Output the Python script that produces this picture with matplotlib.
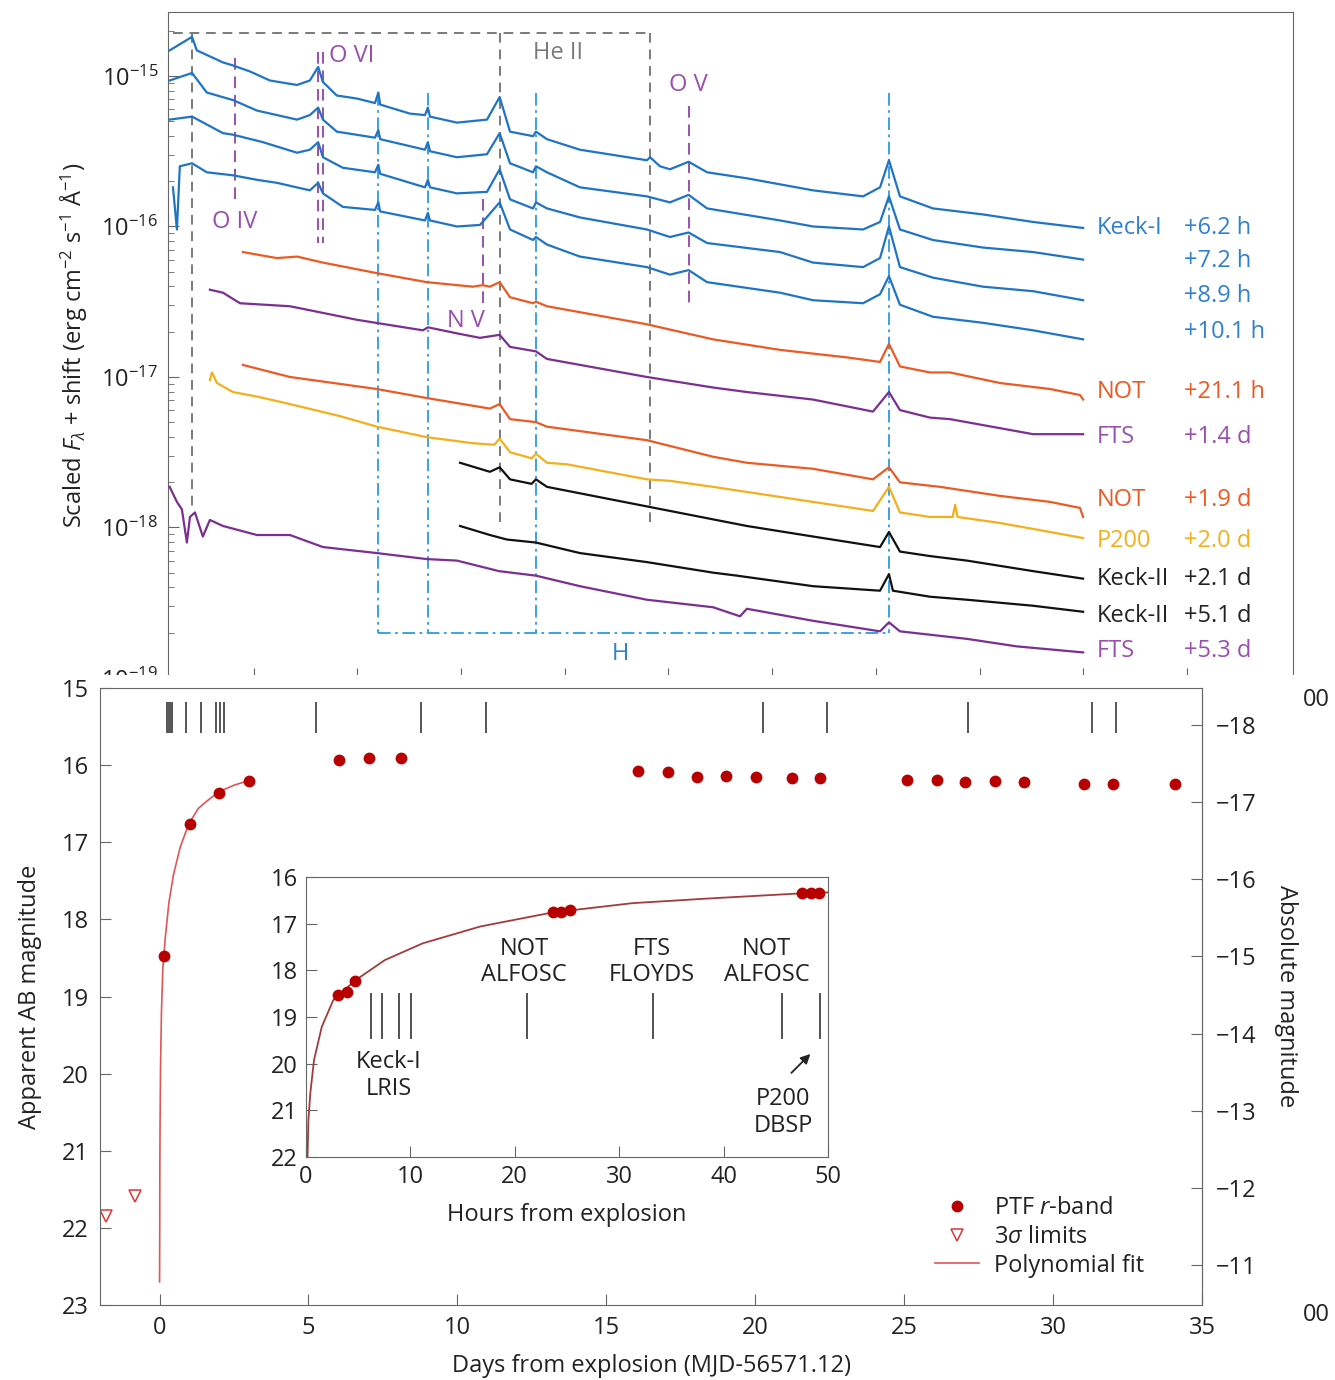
import matplotlib
matplotlib.use("Agg")
import matplotlib.pyplot as plt
import numpy as np
from matplotlib.patches import Rectangle

plt.rcParams["font.family"] = ["Open Sans", "DejaVu Sans"]
plt.rcParams["mathtext.fontset"] = "custom"
plt.rcParams["mathtext.rm"] = "Open Sans"
plt.rcParams["mathtext.it"] = "Open Sans:italic"
plt.rcParams["mathtext.bf"] = "Open Sans:bold"

# ---------------- spectra (wavelength in A, log10 flux) ----------------
k1_62_wl = [3095, 3203, 3226, 3352, 3400, 3482, 3578, 3709, 3771, 3811, 3834, 3901, 3998, 4085, 4101, 4110,
            4253, 4326, 4340, 4350, 4480, 4625, 4686, 4736, 4847, 4861, 4914, 5073, 5396, 5411, 5459, 5507,
            5597, 5686, 5878, 6197, 6438, 6520, 6563, 6616, 6775, 7016, 7258, 7499]
k1_62_lf = [-14.83, -14.74, -14.83, -14.91, -14.93, -14.97, -15.03, -15.06, -15.03, -14.94, -15.04, -15.13,
            -15.15, -15.18, -15.11, -15.19, -15.25, -15.26, -15.21, -15.27, -15.31, -15.29, -15.14, -15.37,
            -15.40, -15.37, -15.42, -15.49, -15.56, -15.54, -15.60, -15.62, -15.57, -15.64, -15.68, -15.76,
            -15.80, -15.74, -15.56, -15.80, -15.88, -15.92, -15.97, -16.01]

k1_72_wl = [3095, 3203, 3274, 3400, 3516, 3709, 3771, 3811, 3834, 3901, 4085, 4101, 4110, 4326, 4340, 4350,
            4480, 4625, 4686, 4736, 4847, 4861, 4914, 5073, 5396, 5507, 5597, 5686, 6038, 6197, 6438, 6520,
            6563, 6616, 6775, 7016, 7258, 7499]
k1_72_lf = [-15.03, -14.98, -15.11, -15.16, -15.23, -15.29, -15.26, -15.21, -15.29, -15.37, -15.41, -15.36,
            -15.42, -15.49, -15.44, -15.50, -15.54, -15.52, -15.38, -15.58, -15.64, -15.60, -15.64, -15.74,
            -15.80, -15.84, -15.79, -15.88, -15.96, -16.00, -16.02, -15.97, -15.80, -16.02, -16.09, -16.14,
            -16.17, -16.22]

k1_89_wl = [3095, 3203, 3352, 3400, 3545, 3709, 3771, 3811, 3834, 3930, 4085, 4101, 4110, 4326, 4340, 4350,
            4480, 4625, 4686, 4736, 4847, 4861, 4914, 5073, 5396, 5507, 5597, 5686, 6038, 6197, 6438, 6520,
            6563, 6616, 6775, 7016, 7258, 7499]
k1_89_lf = [-15.29, -15.27, -15.38, -15.39, -15.44, -15.51, -15.49, -15.44, -15.54, -15.61, -15.64, -15.59,
            -15.65, -15.74, -15.69, -15.74, -15.78, -15.77, -15.62, -15.82, -15.88, -15.84, -15.88, -15.94,
            -16.02, -16.07, -16.04, -16.11, -16.17, -16.24, -16.27, -16.21, -16.00, -16.27, -16.34, -16.40,
            -16.43, -16.49]

k1_101_wl = [3111, 3130, 3144, 3203, 3274, 3400, 3516, 3612, 3771, 3811, 3834, 3930, 4085, 4101, 4110, 4326,
             4340, 4350, 4480, 4591, 4604, 4686, 4736, 4847, 4861, 4914, 5073, 5396, 5507, 5597, 5686, 6038,
             6197, 6438, 6520, 6563, 6616, 6775, 7016, 7258, 7499]
k1_101_lf = [-15.74, -16.02, -15.60, -15.58, -15.64, -15.66, -15.69, -15.71, -15.76, -15.71, -15.78, -15.87,
             -15.89, -15.84, -15.90, -15.96, -15.91, -15.96, -16.00, -15.99, -15.97, -15.84, -16.02, -16.09,
             -16.07, -16.12, -16.20, -16.27, -16.32, -16.29, -16.37, -16.44, -16.49, -16.51, -16.45, -16.33,
             -16.52, -16.60, -16.64, -16.69, -16.75]

not_211_wl = [3448, 3612, 3709, 3834, 4094, 4335, 4557, 4604, 4639, 4686, 4736, 4847, 4861, 4914, 5396, 5555,
              5715, 6038, 6361, 6520, 6563, 6616, 6761, 6857, 7098, 7340, 7484, 7499]
not_211_lf = [-16.17, -16.21, -16.20, -16.24, -16.31, -16.37, -16.40, -16.39, -16.40, -16.37, -16.47, -16.51,
              -16.50, -16.53, -16.65, -16.70, -16.75, -16.82, -16.87, -16.90, -16.78, -16.93, -16.97, -16.97,
              -17.04, -17.08, -17.12, -17.15]

fts_14_wl = [3289, 3352, 3434, 3675, 3998, 4316, 4340, 4480, 4591, 4686, 4736, 4861, 4914, 5396, 5715, 5878,
             6197, 6486, 6563, 6616, 6761, 6857, 7098, 7258, 7499]
fts_14_lf = [-16.42, -16.44, -16.51, -16.53, -16.62, -16.69, -16.67, -16.71, -16.74, -16.72, -16.80, -16.83,
             -16.88, -17.00, -17.07, -17.10, -17.15, -17.23, -17.10, -17.22, -17.27, -17.28, -17.34, -17.38,
             -17.38]

not_19_wl = [3448, 3675, 4094, 4335, 4639, 4686, 4736, 4861, 4914, 5396, 5715, 5878, 6197, 6486, 6563, 6616,
             6809, 7098, 7340, 7484, 7499]
not_19_lf = [-16.92, -17.00, -17.08, -17.14, -17.21, -17.18, -17.28, -17.30, -17.33, -17.42, -17.53, -17.57,
             -17.61, -17.68, -17.60, -17.70, -17.73, -17.79, -17.83, -17.87, -17.93]

p200_wl = [3289, 3299, 3323, 3400, 3516, 3675, 3916, 4094, 4335, 4557, 4660, 4686, 4736, 4840, 4861, 4914,
           5010, 5396, 5507, 5715, 6197, 6486, 6563, 6616, 6761, 6870, 6882, 6894, 7098, 7340, 7499]
p200_lf = [-17.02, -16.97, -17.04, -17.10, -17.13, -17.18, -17.26, -17.33, -17.40, -17.44, -17.45, -17.41,
           -17.50, -17.54, -17.51, -17.57, -17.58, -17.68, -17.69, -17.73, -17.83, -17.89, -17.73, -17.90,
           -17.93, -17.93, -17.85, -17.93, -17.97, -18.03, -18.07]

k2_21_wl = [4495, 4639, 4686, 4736, 4840, 4861, 4914, 5396, 5878, 6197, 6520, 6563, 6616, 6761, 6939, 7258,
            7499]
k2_21_lf = [-17.57, -17.63, -17.60, -17.68, -17.71, -17.68, -17.73, -17.86, -17.99, -18.06, -18.13, -18.03,
            -18.16, -18.19, -18.22, -18.29, -18.34]

k2_51_wl = [4495, 4639, 4721, 4861, 5073, 5396, 5715, 5830, 6197, 6520, 6563, 6582, 6761, 6939, 7258, 7499]
k2_51_lf = [-17.99, -18.05, -18.08, -18.10, -18.17, -18.23, -18.30, -18.32, -18.39, -18.42, -18.31, -18.42,
            -18.46, -18.48, -18.52, -18.56]

fts_53_wl = [3095, 3130, 3154, 3178, 3193, 3217, 3255, 3289, 3352, 3516, 3675, 3834, 4094, 4335, 4480, 4683,
             4861, 5073, 5396, 5715, 5845, 5878, 6197, 6520, 6563, 6616, 6939, 7180, 7499]
fts_53_lf = [-17.73, -17.83, -17.88, -18.10, -17.93, -17.90, -18.06, -17.95, -17.99, -18.05, -18.05, -18.13,
             -18.17, -18.21, -18.22, -18.29, -18.32, -18.39, -18.48, -18.53, -18.59, -18.54, -18.62, -18.69,
             -18.63, -18.69, -18.74, -18.79, -18.83]

spec_tel = ["Keck-I", "", "", "", "NOT", "FTS", "NOT", "P200", "Keck-II", "Keck-II", "FTS"]
spec_epoch = ["+6.2 h", "+7.2 h", "+8.9 h", "+10.1 h", "+21.1 h", "+1.4 d", "+1.9 d", "+2.0 d",
              "+2.1 d", "+5.1 d", "+5.3 d"]
spec_label_lf = [-16.01, -16.23, -16.46, -16.70, -17.10, -17.40, -17.82, -18.09, -18.34, -18.59, -18.82]

# line identifications (A)
heii_wl = [3203, 4686, 5411]
hyd_wl = [4101, 4340, 4861, 6563]
oiv_wl, ovi_wl, nv_wl, ov_wl = 3411, [3811, 3834], 4604, 5597

# ---------------- light curve ----------------
ptf_hours = [3.09, 3.89, 4.69, 23.64, 24.46, 25.3, 47.53, 48.35, 49.15]
ptf_mag_early = [18.53, 18.47, 18.22, 16.76, 16.76, 16.71, 16.35, 16.35, 16.35]
night_days = [0.16, 1.03, 2.01]
night_mag = [18.47, 16.76, 16.36]
ptf_days = [3.0, 6.01, 7.04, 8.11, 16.08, 17.08, 18.04, 19.01, 20.03, 21.23, 22.18, 25.08, 26.09, 27.04,
            28.04, 29.02, 31.05, 32.0, 34.11]
ptf_mag = [16.2, 15.94, 15.91, 15.91, 16.07, 16.09, 16.15, 16.14, 16.16, 16.17, 16.17, 16.19, 16.19, 16.22,
           16.21, 16.22, 16.24, 16.24, 16.24]
lim_days = [-1.8, -0.82]
lim_mag = [21.84, 21.59]
fit_hours = [0, 0.15, 0.23, 0.41, 0.77, 1.51, 2.61, 4.69, 7.55, 11.2, 16.7, 23.6, 31.3, 38.6, 47.5, 50, 60, 72]
fit_mag = [22.7, 21.96, 21.21, 20.64, 19.92, 19.21, 18.64, 18.22, 17.78, 17.42, 17.06, 16.76, 16.56, 16.46,
           16.35, 16.33, 16.26, 16.2]
spec_days = [0.258, 0.30, 0.371, 0.421, 0.879, 1.38, 1.9, 2.03, 2.17, 5.26, 8.79, 10.95, 20.26, 22.41,
             27.13, 31.32, 32.1]
inset_spec_hours = [6.26, 7.26, 8.94, 10.1, 21.16, 33.2, 45.6, 49.2]
dist_mod = 33.48

BLUE, ORANGE, PURPLE, YELLOW, BLACK = "#1f74c4", "#ec5a24", "#7d2e91", "#f3b01b", "#111111"
HBLUE, LPURPLE, GRAY = "#2b9be0", "#9a4fb0", "#7a7a7a"
AXC = "#666666"
TXT = "#222222"

W, H = 1335, 1380
fig = plt.figure(figsize=(W / 100, H / 100), dpi=100)

# ---------------- top: spectra ----------------
ax1 = fig.add_axes([168 / W, 1 - 678 / H, 1125 / W, 666 / H], zorder=0)
spectra = [
    (k1_62_wl, k1_62_lf, BLUE), (k1_72_wl, k1_72_lf, BLUE), (k1_89_wl, k1_89_lf, BLUE),
    (k1_101_wl, k1_101_lf, BLUE), (not_211_wl, not_211_lf, ORANGE), (fts_14_wl, fts_14_lf, PURPLE),
    (not_19_wl, not_19_lf, ORANGE), (p200_wl, p200_lf, YELLOW), (k2_21_wl, k2_21_lf, BLACK),
    (k2_51_wl, k2_51_lf, BLACK), (fts_53_wl, fts_53_lf, PURPLE),
]
for wl, lf, c in spectra:
    ax1.plot(wl, 10 ** np.array(lf), color=c, lw=1.6, zorder=3)

lab_cols = ["#2f80cf"] * 4 + [ORANGE, LPURPLE, ORANGE, YELLOW, TXT, TXT, LPURPLE]
for tel, ep, lf, c in zip(spec_tel, spec_epoch, spec_label_lf, lab_cols):
    ax1.text(7566, 10 ** lf, tel, color=c, fontsize=17, va="center", ha="left")
    ax1.text(7986, 10 ** lf, ep, color=c, fontsize=17, va="center", ha="left")

dash = (0, (5, 3.5))
ax1.plot([3110, 5411], [10 ** -14.715] * 2, color=GRAY, lw=1.4, ls=dash)
for wl, bot in zip(heii_wl, [-17.88, -18.01, -18.0]):
    ax1.plot([wl, wl], [10 ** -14.715, 10 ** bot], color=GRAY, lw=1.4, ls=dash)
ax1.text(4967, 10 ** -14.85, "He II", color=GRAY, fontsize=17, ha="center", va="center")

pdash = (0, (6, 3.5))
ax1.plot([oiv_wl, oiv_wl], [10 ** -14.88, 10 ** -15.84], color=LPURPLE, lw=1.4, ls=pdash)
for wl in ovi_wl:
    ax1.plot([wl, wl], [10 ** -14.84, 10 ** -16.11], color=LPURPLE, lw=1.4, ls=pdash)
ax1.plot([nv_wl, nv_wl], [10 ** -15.82, 10 ** -16.53], color=LPURPLE, lw=1.4, ls=pdash)
ax1.plot([ov_wl, ov_wl], [10 ** -15.20, 10 ** -16.53], color=LPURPLE, lw=1.4, ls=pdash)
ax1.text(3974, 10 ** -14.87, "O VI", color=LPURPLE, fontsize=17, ha="center", va="center")
ax1.text(3410, 10 ** -15.97, "O IV", color=LPURPLE, fontsize=17, ha="center", va="center")
ax1.text(4524, 10 ** -16.63, "N V", color=LPURPLE, fontsize=17, ha="center", va="center")
ax1.text(5594, 10 ** -15.06, "O V", color=LPURPLE, fontsize=17, ha="center", va="center")

hdash = (0, (7, 2.5, 1.5, 2.5))
for wl in hyd_wl:
    ax1.plot([wl, wl], [10 ** -15.11, 10 ** -18.70], color=HBLUE, lw=1.3, ls=hdash, zorder=2)
ax1.plot([hyd_wl[0], hyd_wl[-1]], [10 ** -18.70] * 2, color=HBLUE, lw=1.3, ls=hdash, zorder=2)
ax1.text(5266, 10 ** -18.84, "H", color="#2f80cf", fontsize=17, ha="center", va="center")

ax1.set_yscale("log")
ax1.set_xlim(3087, 8511)
ax1.set_ylim(1e-19, 10 ** -14.575)
ax1.set_xticks(np.arange(3500, 8001, 500))
ax1.set_yticks([1e-19, 1e-18, 1e-17, 1e-16, 1e-15])
ax1.tick_params(axis="x", direction="in", length=7, color=AXC, labelbottom=False)
ax1.tick_params(axis="y", which="major", direction="in", length=8, color=AXC, labelsize=17,
                labelcolor=TXT, pad=7)
ax1.tick_params(axis="y", which="minor", direction="in", length=4, color=AXC)
for s in ax1.spines.values():
    s.set_color(AXC)
ax1.set_ylabel(r"Scaled $F_\lambda$ + shift (erg cm$^{-2}$ s$^{-1}$ Å$^{-1}$)", fontsize=17, color=TXT,
               labelpad=8)

# white sheet of the lower figure
fig.patches.append(Rectangle((0, 0), 1300 / W, 1 - 675 / H, transform=fig.transFigure,
                             facecolor="white", edgecolor="none", zorder=0.5))
fig.text(1303 / W, 1 - 700 / H, "00", fontsize=17, color=TXT, va="center", zorder=3)
fig.text(1303 / W, 1 - 1315 / H, "00", fontsize=17, color=TXT, va="center", zorder=3)

# ---------------- bottom: light curve ----------------
ax2 = fig.add_axes([100 / W, 1 - 1305 / H, 1102 / W, 617 / H], zorder=1)
ax2.plot(np.array(fit_hours) / 24, fit_mag, color="#e05555", lw=1.2, zorder=2)
ax2.plot(night_days, night_mag, "o", color="#b80000", ms=8.5, mec="none", zorder=3)
ax2.plot(ptf_days, ptf_mag, "o", color="#b80000", ms=8.5, mec="none", zorder=3,
         label=r"PTF $r$-band")
ax2.plot(lim_days, lim_mag, "v", mfc="none", mec="#e03535", ms=8, mew=1.1, ls="none",
         label=r"3$\sigma$ limits")
ax2.plot([], [], color="#e05555", lw=1.2, label="Polynomial fit")
ax2.vlines(spec_days, 15.18, 15.58, color="#555555", lw=1.4)

ax2.set_xlim(-2, 35)
ax2.set_ylim(23, 15)
ax2.set_xticks([0, 5, 10, 15, 20, 25, 30, 35])
ax2.set_yticks(range(15, 24))
ax2.tick_params(direction="in", length=8, color=AXC, labelsize=17, labelcolor=TXT, pad=8)
for s in ax2.spines.values():
    s.set_color(AXC)
ax2.set_xlabel("Days from explosion (MJD-56571.12)", fontsize=17, color=TXT, labelpad=10)
ax2.set_ylabel("Apparent AB magnitude", fontsize=17, color=TXT, labelpad=14)

sec = ax2.secondary_yaxis("right", functions=(lambda m: m - dist_mod, lambda M: M + dist_mod))
sec.set_yticks(range(-18, -10))
sec.set_yticklabels([f"\u2212{abs(v)}" for v in range(-18, -10)])
sec.tick_params(direction="in", length=8, color=AXC, labelsize=17, labelcolor=TXT, pad=10)
sec.spines["right"].set_color(AXC)
sec.set_ylabel("Absolute magnitude", fontsize=17, color=TXT, rotation=270, labelpad=30)

ax2.legend(loc="lower left", bbox_to_anchor=(0.738, 0.01), frameon=False, fontsize=17,
           handlelength=1.9, labelspacing=0.2, handletextpad=0.6, labelcolor=TXT)

# ---------------- inset ----------------
ax3 = fig.add_axes([306 / W, 1 - 1157 / H, 522 / W, 280 / H], zorder=2)
ax3.plot(fit_hours, fit_mag, color="#a33b3b", lw=1.3, zorder=2)
ax3.plot(ptf_hours, ptf_mag_early, "o", color="#b80000", ms=8.5, mec="none", zorder=3)
ax3.vlines(inset_spec_hours, 18.48, 19.48, color="#333333", lw=1.2)
ax3.set_xlim(0, 50)
ax3.set_ylim(22, 16)
ax3.set_xticks(range(0, 51, 10))
ax3.set_yticks(range(16, 23))
ax3.tick_params(direction="in", length=8, color=AXC, labelsize=17, labelcolor=TXT, pad=6)
for s in ax3.spines.values():
    s.set_color(AXC)
ax3.set_xlabel("Hours from explosion", fontsize=17, color=TXT, labelpad=10)
for x, y, t in [(20.9, 17.82, "NOT\nALFOSC"), (33.1, 17.82, "FTS\nFLOYDS"), (44.1, 17.82, "NOT\nALFOSC"),
                (7.9, 20.26, "Keck-I\nLRIS"), (45.7, 21.04, "P200\nDBSP")]:
    ax3.text(x, y, t, fontsize=17, color=TXT, ha="center", va="center", linespacing=1.15)
ax3.annotate("", xy=(48.5, 19.75), xytext=(46.3, 20.24),
             arrowprops=dict(arrowstyle="-|>", color=TXT, lw=1.3, mutation_scale=14))

fig.savefig("out.png", dpi=100)
